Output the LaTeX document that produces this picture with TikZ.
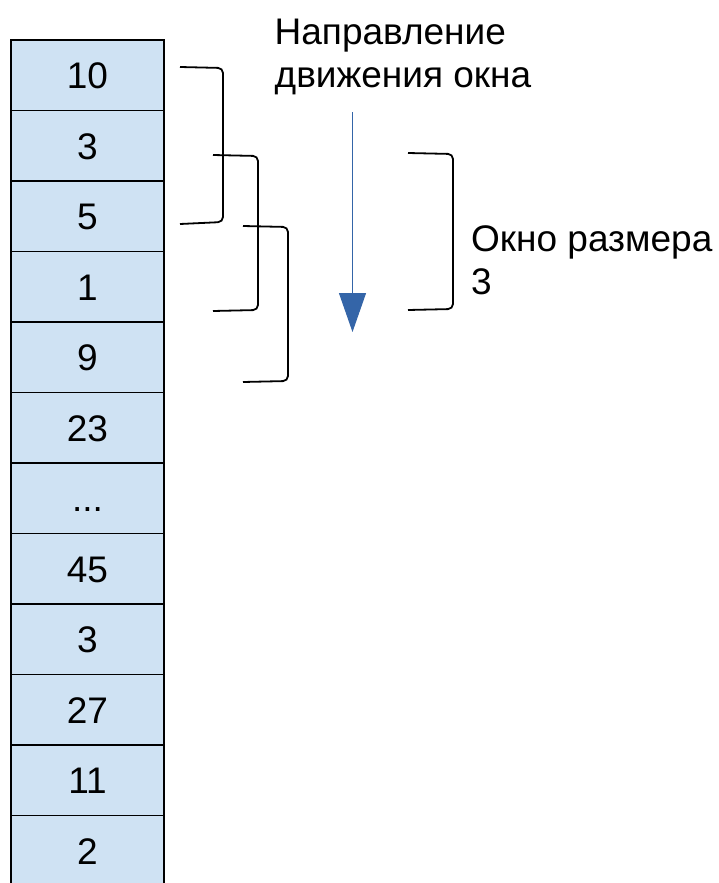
\documentclass[tikz,border=0pt]{standalone}
\usepackage{fontspec}
\setmainfont{Liberation Sans}
\usetikzlibrary{arrows.meta}
\definecolor{cellfill}{HTML}{CFE2F3}
\definecolor{arrowblue}{HTML}{3465A8}
\begin{document}
\begin{tikzpicture}[x=1pt,y=-1pt,
  cell/.style={draw=black,line width=1.8pt,fill=cellfill,minimum width=153pt,minimum height=70.5pt,
    inner sep=0pt,text height=26.5pt,text depth=0pt,font=\fontsize{37}{43}\selectfont},
  brace/.style={draw=black,line width=1.8pt,rounded corners=5pt},
  lbl/.style={anchor=base west,inner sep=0pt,font=\fontsize{37}{43}\selectfont}]
\useasboundingbox (0,0) rectangle (718,883);
\clip (0,0) rectangle (718,883);
\fill[white] (0,0) rectangle (718,883);
\node[cell] (c0) at (87.5,75.25) {10};
\node[cell] (c1) at (87.5,145.75) {3};
\node[cell] (c2) at (87.5,216.25) {5};
\node[cell] (c3) at (87.5,286.75) {1};
\node[cell] (c4) at (87.5,357.25) {9};
\node[cell] (c5) at (87.5,427.75) {23};
\node[cell] (c6) at (87.5,498.25) {...};
\node[cell] (c7) at (87.5,568.75) {45};
\node[cell] (c8) at (87.5,639.25) {3};
\node[cell] (c9) at (87.5,709.75) {27};
\node[cell] (c10) at (87.5,780.25) {11};
\node[cell] (c11) at (87.5,850.75) {2};
% sliding windows
\draw[brace] (180,67) -- (223,68) -- (223,222) -- (180,224);
\draw[brace] (213,155) -- (258,156) -- (258,310) -- (213,311);
\draw[brace] (243,226) -- (288,227) -- (288,381) -- (243,382);
% window size bracket
\draw[brace] (408,153) -- (453,154) -- (453,309) -- (408,310);
% labels
\node[lbl] (dir1) at (274.5,45) {Направление};
\node[lbl] (dir2) at (274.5,88) {движения окна};
\node[lbl] (win1) at (471,251) {Окно размера};
\node[lbl] (win2) at (471,294) {3};
% direction arrow
\coordinate (as) at (352.5,112);
\coordinate (ae) at (352.5,332);
\draw[arrowblue,line width=1pt,-{Triangle[length=39pt,width=27pt]}] (as) -- (ae);
\end{tikzpicture}
\end{document}
